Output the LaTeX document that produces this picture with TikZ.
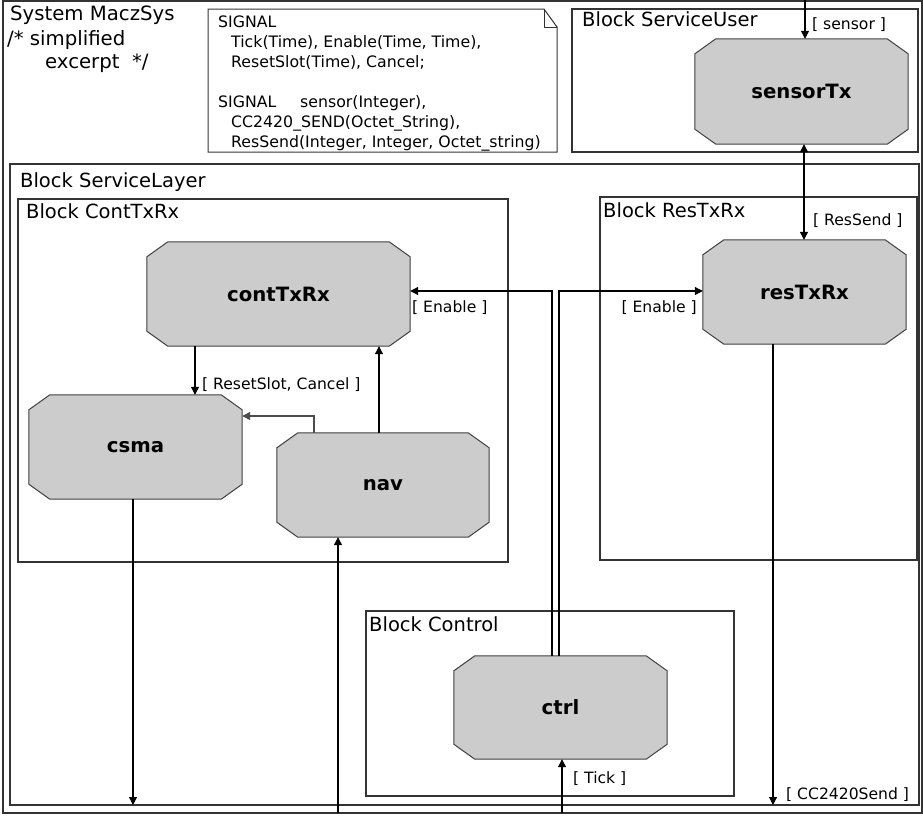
\documentclass[tikz,border=0pt]{standalone}
\usepackage{fontspec}
\setmainfont{DejaVu Sans}
\usetikzlibrary{arrows.meta,backgrounds}
\begin{document}
\begin{tikzpicture}[x=1pt,y=-1pt,
  tip/.tip={Triangle[length=8pt,width=8pt]},
  frame/.style={draw=black!80, line width=1.2pt},
  proc/.style={rectangle, draw=none, inner sep=0pt, minimum width=#1, minimum height=104pt,
    font=\fontsize{19.7}{22}\selectfont\bfseries},
  octo/.style={fill=black!20, draw=black!75, line width=1pt},
  conn/.style={draw=black, line width=1.1pt, -tip},
  lbl/.style={font=\fontsize{15.6}{20}\selectfont, inner sep=0pt, anchor=base west},
  nlbl/.style={font=\fontsize{15.75}{20}\selectfont, inner sep=0pt, anchor=base west},
  blbl/.style={font=\fontsize{19.5}{23}\selectfont, inner sep=0pt, anchor=base west},
  tlbl/.style={font=\fontsize{19.7}{23}\selectfont, inner sep=0pt, anchor=base west},
]
\useasboundingbox (0,0) rectangle (923,815);

% frames
\draw[frame] (3,1) rectangle (922,813);
\draw[frame] (572,9) rectangle (918,152);
\draw[frame] (10,164) rectangle (919,805);
\draw[frame] (18,199) rectangle (508,562);
\draw[frame] (600,197) rectangle (917,560);
\draw[frame] (366,611) rectangle (734,796);

% note
\draw[frame, line width=1pt] (208,9) -- (544,9) -- (557,27) -- (557,152) -- (208,152) -- cycle;
\draw[black!80, line width=0.8pt] (544,9) -- (544,27) -- (557,27);

% titles
\node[tlbl] (t1) at (10,20) {System MaczSys};
\node[tlbl] (t2) at (7,45) {/* simplified};
\node[tlbl] (t3) at (45,68) {excerpt\ \ */};
\node[blbl] (bsu) at (582,26) {Block ServiceUser};
\node[blbl] (bsl) at (20,187) {Block ServiceLayer};
\node[blbl] (bct) at (26,218) {Block ContTxRx};
\node[blbl] (brt) at (603,217) {Block ResTxRx};
\node[blbl] (bco) at (369,631) {Block Control};

% note text
\node[nlbl] (n1) at (218,27) {SIGNAL};
\node[nlbl] (n2) at (231,47) {Tick(Time), Enable(Time, Time),};
\node[nlbl] (n3) at (231,67) {ResetSlot(Time), Cancel;};
\node[nlbl] (n4) at (218,107) {SIGNAL};
\node[nlbl] (n4b) at (300,107) {sensor(Integer),};
\node[nlbl] (n5) at (231,127) {CC2420\_SEND(Octet\_String),};
\node[nlbl] (n6) at (231,147) {ResSend(Integer, Integer, Octet\_string)};

% processes
\node[proc=213pt, minimum height=105pt] (sensorTx) at (801.5,91.5) {sensorTx};
\node[proc=263pt] (contTxRx) at (278.5,294) {contTxRx};
\node[proc=203pt] (resTxRx) at (804.5,292) {resTxRx};
\node[proc=213pt] (csma) at (135.5,447) {csma};
\node[proc=212pt] (nav) at (383,485) {nav};
\node[proc=213pt, minimum height=103pt] (ctrl) at (560.5,707.5) {ctrl};

\begin{scope}[on background layer]
\fill[white] (0,0) rectangle (923,815);
\foreach \n in {sensorTx,contTxRx,resTxRx,csma,nav,ctrl}{
  \path[octo] ([xshift=21pt]\n.north west) -- ([xshift=-21pt]\n.north east)
    -- ([yshift=-15pt]\n.north east) -- ([yshift=15pt]\n.south east)
    -- ([xshift=-21pt]\n.south east) -- ([xshift=21pt]\n.south west)
    -- ([yshift=15pt]\n.south west) -- ([yshift=-15pt]\n.north west) -- cycle;
}
\end{scope}

% connectors
\coordinate (sIn) at (805,0);
\draw[conn] (sIn) -- (sensorTx.north -| sIn);
\coordinate (xSR) at (804,0);
\draw[conn, tip-tip] (sensorTx.south -| xSR) -- (resTxRx.north -| xSR);
\coordinate (xRC) at (195,0);
\draw[conn] (contTxRx.south -| xRC) -- (csma.north -| xRC);
\coordinate (nc) at (314,416);
\draw[conn, draw=black!70] (nav.north -| nc) |- (csma.east |- nc);
\coordinate (xNC) at (379,0);
\draw[conn] (nav.north -| xNC) -- (contTxRx.south -| xNC);
\coordinate (e1) at (552,291);
\draw[conn] (ctrl.north -| e1) |- (contTxRx.east |- e1);
\coordinate (e2) at (559,291);
\draw[conn] (ctrl.north -| e2) |- (resTxRx.west |- e2);
\coordinate (ccOut) at (773,805);
\draw[conn] (resTxRx.south -| ccOut) -- (ccOut);
\coordinate (csOut) at (133,805);
\draw[conn] (csma.south -| csOut) -- (csOut);
\coordinate (navIn) at (338,813);
\draw[conn] (navIn) -- (nav.south -| navIn);
\coordinate (tickIn) at (562,813);
\draw[conn] (tickIn) -- (ctrl.south -| tickIn);

% connector labels
\node[lbl] (lsensor) at (812,29) {[ sensor ]};
\node[lbl] (lressend) at (813,225) {[ ResSend ]};
\node[lbl] (lenable1) at (412,312) {[ Enable ]};
\node[lbl, anchor=base east] (lenable2) at (697,312) {[ Enable ]};
\node[lbl] (lreset) at (202,389) {[ ResetSlot, Cancel ]};
\node[lbl] (ltick) at (573,783) {[ Tick ]};
\node[lbl] (lcc) at (786,799) {[ CC2420Send ]};
\end{tikzpicture}
\end{document}
